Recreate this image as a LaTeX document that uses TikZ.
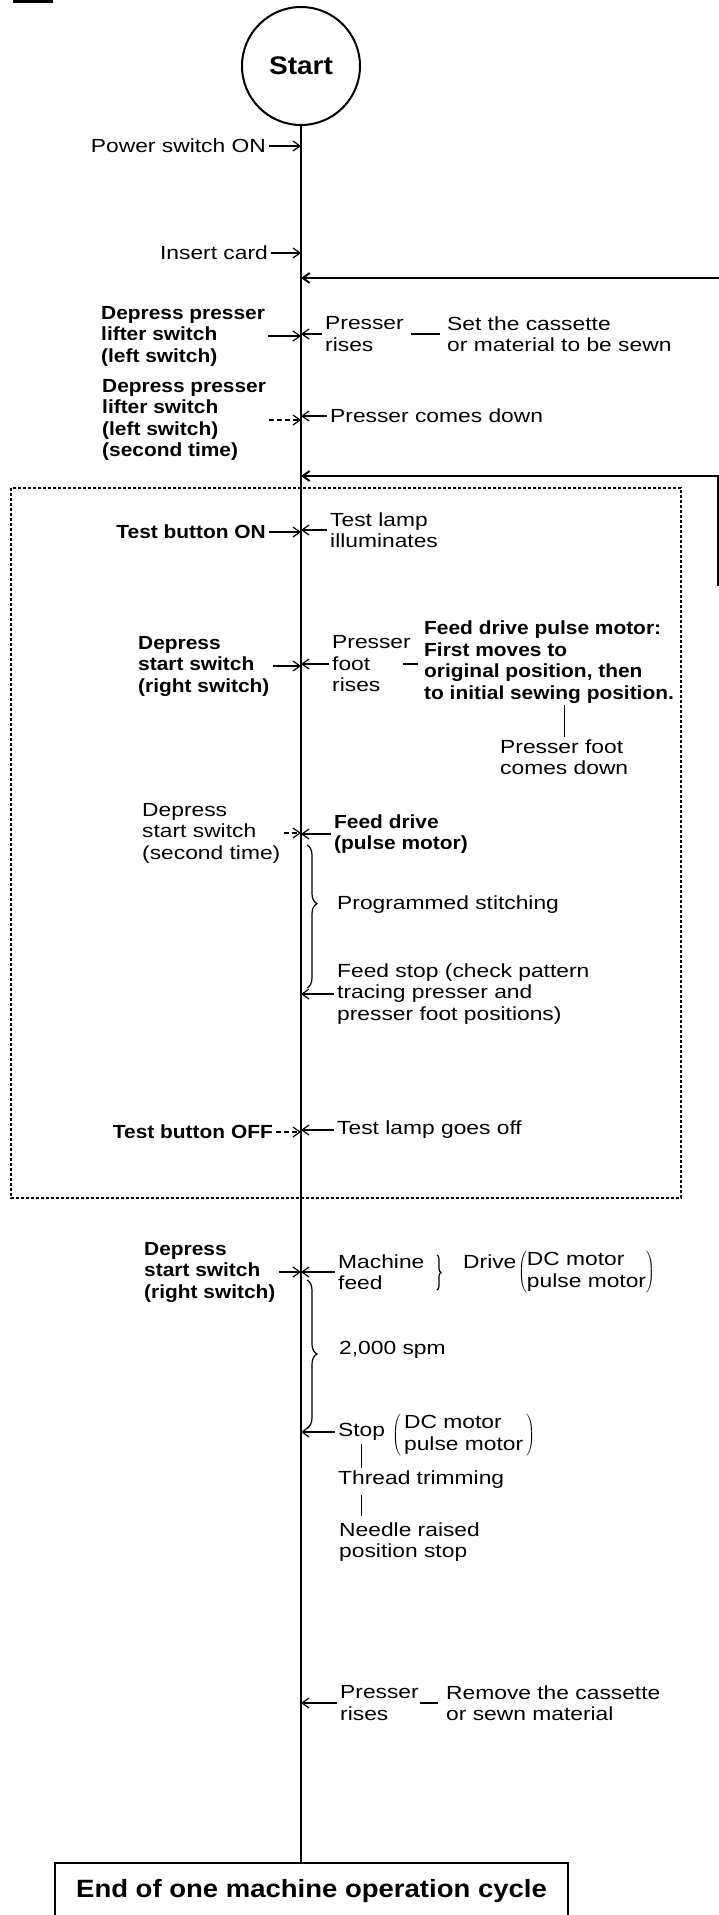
\documentclass[tikz,border=0pt]{standalone}
\usepackage{fontspec}
\setmainfont{Liberation Sans}[FakeStretch=1.2]
\newfontfamily\bfam{Liberation Sans}[FakeStretch=1.1]
\usetikzlibrary{arrows.meta,decorations.pathreplacing}

\begin{document}
\begin{tikzpicture}[x=1pt, y=-1pt, >={Straight Barb[length=7pt,width=10pt]},
  every node/.style={font=\fontsize{19}{21.5}\selectfont, inner sep=0pt, align=left},
  btxt/.style={font=\bfam\bfseries\fontsize{19}{21.5}\selectfont},
  ev/.style={->, line width=1.2pt, shorten <=3pt},
  evd/.style={ev, dash pattern=on 5pt off 3pt},
  lnk/.style={line width=1.2pt},
  brc/.style={decorate, line width=1.2pt},
  ret/.style={->, line width=2pt}]
\useasboundingbox (0,0) rectangle (719,1915);
\clip (0,0) rectangle (719,1915);
\fill (13,0) rectangle (53,2.5);
\node[draw, circle, line width=2pt, minimum size=118pt, font=\bfam\bfseries\fontsize{25.5}{28}\selectfont] (start) at (301,66) {Start};
\node[draw, line width=1.8pt, minimum width=513pt, minimum height=56pt, anchor=north, font=\bfam\bfseries\fontsize{25}{28}\selectfont] (endc) at (311.5,1862) {End of one machine operation cycle};
\draw[line width=2.2pt] (start) -- (start |- endc.north);
% loading
\node[anchor=east] (pwr) at (266,146) {Power switch ON};
\node[anchor=east] (card) at (268,253) {Insert card};
\node[btxt,anchor=west] (dp1) at (101,336) {Depress presser\\lifter switch\\(left switch)};
\node[anchor=west] (rise1) at (325,334) {Presser\\rises};
\node[anchor=west] (cass) at (447,334) {Set the cassette\\or material to be sewn};
\node[btxt,anchor=west] (dp2) at (102,420) {Depress presser\\lifter switch\\(left switch)\\(second time)};
\node[anchor=west] (down1) at (330,416) {Presser comes down};
\draw[ev] (pwr) -- (pwr -| start); \draw[ev] (card) -- (card -| start);
\draw[ev] (dp1) -- (dp1 -| start); \draw[ev] (rise1) -- (rise1 -| start);
\draw[lnk, shorten <=7pt, shorten >=7pt] (rise1) -- (cass);
\draw[evd] (dp2) -- (dp2 -| start); \draw[ev] (down1) -- (down1 -| start);
% return lines
\coordinate (r1) at (719,278); \coordinate (r2) at (718,586); \coordinate (r2c) at (718,476);
\draw[ret] (r1) -- (r1 -| start);
\draw[ret] (r2) -- (r2c) -- (r2c -| start);
% test run
\draw[line width=1.1pt, dash pattern=on 3pt off 2pt] (11,488) rectangle (681,1198);
\node[btxt,anchor=east] (tbon) at (266,532) {Test button ON};
\node[anchor=west] (lamp) at (330,530) {Test lamp\\illuminates};
\node[btxt,anchor=west] (ds1) at (138,666) {Depress\\start switch\\(right switch)};
\node[anchor=west] (pfr) at (332,664) {Presser\\foot\\rises};
\node[btxt,anchor=west] (fdp) at (424,662) {Feed drive pulse motor:\\First moves to\\original position, then\\to initial sewing position.};
\node[anchor=west] (pfd) at (500,757) {Presser foot\\comes down};
\node[anchor=west] (ds2) at (142,833) {Depress\\start switch\\(second time)};
\node[btxt,anchor=west] (fdrv) at (334,834) {Feed drive\\(pulse motor)};
\node[anchor=west] (prog) at (337,905) {Programmed stitching};
\node[anchor=west] (fstop) at (337,994) {Feed stop (check pattern\\tracing presser and\\presser foot positions)};
\node[btxt,anchor=east] (tboff) at (273,1132) {Test button OFF};
\node[anchor=west] (lampoff) at (337,1130) {Test lamp goes off};
\draw[ev] (tbon) -- (tbon -| start); \draw[ev] (lamp) -- (lamp -| start);
\draw[ev] (ds1) -- (ds1 -| start); \draw[ev] (pfr) -- (pfr -| start);
\draw[lnk, shorten <=-8pt, shorten >=6pt] (pfr.east) -- (pfr.east -| fdp.west);
\draw[lnk, shorten <=2pt, shorten >=2pt] (fdp.south -| pfd.north) -- (pfd.north);
\draw[evd] (ds2) -- (ds2 -| start); \draw[ev] (fdrv) -- (fdrv -| start);
\draw[brc, decoration={brace, amplitude=10pt, aspect=0.41}] (307,845) -- (307,988);
\draw[ev] (fstop) -- (fstop -| start);
\draw[evd] (tboff) -- (tboff -| start); \draw[ev] (lampoff) -- (lampoff -| start);
% sewing
\node[btxt,anchor=west] (ds3) at (144,1272) {Depress\\start switch\\(right switch)};
\node[anchor=west] (mf) at (338,1272) {Machine\\feed};
\node[anchor=west] (drv) at (463,1262) {Drive};
\node[anchor=west] (drvm) at (518,1272) {$\left(\mbox{\begin{tabular}{@{}l@{}}DC motor\\pulse motor\end{tabular}}\right)$};
\node[anchor=west] (spm) at (339,1350) {2,000 spm};
\node[anchor=west] (stop) at (338,1432) {Stop};
\node[anchor=west] (stopm) at (392,1435) {$\left(\mbox{\,\begin{tabular}{@{}l@{}}DC motor\\pulse motor\end{tabular}\,}\right)$};
\node[anchor=west] (trim) at (338,1480) {Thread trimming};
\node[anchor=west] (needle) at (339,1542) {Needle raised\\position stop};
\draw[ev] (ds3) -- (ds3 -| start); \draw[ev] (mf) -- (mf -| start);
\draw[brc, decoration={brace, amplitude=4pt}] (437,1255) -- (437,1290);
\draw[brc, decoration={brace, amplitude=10pt}] (307,1280) -- (307,1428);
\draw[ev] (stop) -- (stop -| start);
\draw[lnk, shorten <=3pt, shorten >=3pt] (stop.south) -- (stop.south |- trim.north);
\draw[lnk, shorten <=6pt, shorten >=6pt] (trim.south -| stop.south) -- (needle.north -| stop.south);
% unloading
\node[anchor=west] (rise2) at (340,1703) {Presser\\rises};
\node[anchor=west] (remv) at (446,1703) {Remove the cassette\\or sewn material};
\draw[ev] (rise2) -- (rise2 -| start);
\draw[lnk, shorten <=1pt, shorten >=8pt] (rise2.east) -- (rise2.east -| remv.west);
\end{tikzpicture}
\end{document}
